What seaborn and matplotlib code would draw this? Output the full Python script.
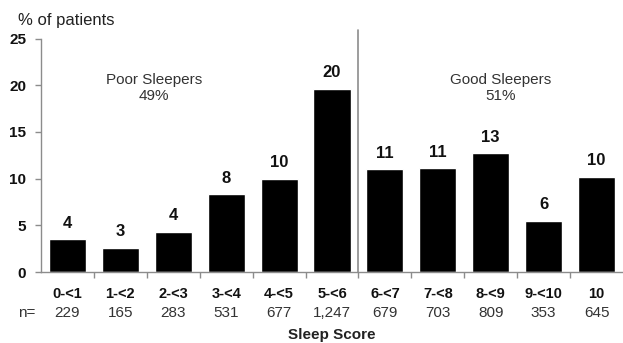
import matplotlib
matplotlib.use("Agg")
import matplotlib.pyplot as plt
import matplotlib.transforms as mtransforms
import numpy as np
import pandas as pd
import seaborn as sns

# Sleep score bins, share of patients (%) and patients per bin
score_bins = ["0-<1", "1-<2", "2-<3", "3-<4", "4-<5", "5-<6",
              "6-<7", "7-<8", "8-<9", "9-<10", "10"]
pct_patients = [3.5, 2.6, 4.3, 8.3, 10.0, 19.6, 11.0, 11.1, 12.7, 5.5, 10.2]
n_patients = [229, 165, 283, 531, 677, 1247, 679, 703, 809, 353, 645]
group_labels = ["Poor Sleepers\n49%", "Good Sleepers\n51%"]
y_ticks = [0, 5, 10, 15, 20, 25]

df = pd.DataFrame({"bin": score_bins, "pct": pct_patients})

sns.set_style("white")
plt.rcParams["font.family"] = ["Liberation Sans", "DejaVu Sans"]

fig = plt.figure(figsize=(6.23, 3.43), dpi=100)
ax = fig.add_axes([41 / 623, 71 / 343, 1 - 41 / 623, 233.5 / 343])

sns.barplot(data=df, x="bin", y="pct", color="black", width=0.70,
            saturation=1, ax=ax, errorbar=None, order=score_bins)

ax.set_xlim(-0.5, len(score_bins) - 0.5)
ax.set_ylim(0, 25)
ax.set_yticks(y_ticks)
ax.set_yticklabels([str(t) for t in y_ticks], fontsize=11, fontweight="bold",
                   color="#111111")

grey = "#8c8c8c"
for side in ("top", "right"):
    ax.spines[side].set_visible(False)
for side in ("left", "bottom"):
    ax.spines[side].set_color(grey)
    ax.spines[side].set_linewidth(1.0)

ax.tick_params(axis="y", left=True, length=4.3, color=grey, width=1, pad=6.5)
# category boundaries as tick marks, category names as bold labels
ax.set_xticks(np.arange(len(score_bins)))
ax.set_xticklabels(score_bins, fontsize=10.5, fontweight="bold", color="#111111")
ax.tick_params(axis="x", which="major", bottom=False, length=0, pad=11)
ax.set_xticks(np.arange(len(score_bins) - 1) + 0.5, minor=True)
ax.tick_params(axis="x", which="minor", bottom=True, length=4, color=grey, width=1)
ax.set_xlabel("")
ax.set_ylabel("")

# value labels above bars
for i, v in enumerate(pct_patients):
    ax.annotate(f"{v:.0f}", (i, v), xytext=(0, 11.5), textcoords="offset points",
                ha="center", va="center", fontsize=12, fontweight="bold",
                color="#111111")

# n row under the category labels
trans = mtransforms.blended_transform_factory(ax.transData, fig.transFigure)
for i, n in enumerate(n_patients):
    ax.text(i, 1 - 313 / 343, f"{n:,}", transform=trans, ha="center",
            va="center", fontsize=11, color="#333333")
fig.text(18 / 623, 1 - 313 / 343, "n=", ha="left", va="center",
         fontsize=11, color="#333333")
fig.text(332 / 623, 1 - 335 / 343, "Sleep Score", ha="center", va="center",
         fontsize=11, fontweight="bold", color="#222222")
fig.text(18 / 623, 1 - 20 / 343, "% of patients", ha="left", va="center",
         fontsize=12, color="#222222")

# divider between poor and good sleepers
ax.axvline(5.5, ymin=0, ymax=(272 - 30) / 233.5, color=grey, lw=1.2, clip_on=False)
ax.text(1.63, 19.7, group_labels[0], ha="center", va="center", fontsize=11,
        color="#333333", linespacing=1.2)
ax.text(8.18, 19.7, group_labels[1], ha="center", va="center", fontsize=11,
        color="#333333", linespacing=1.2)

fig.savefig("out.png", dpi=100)
